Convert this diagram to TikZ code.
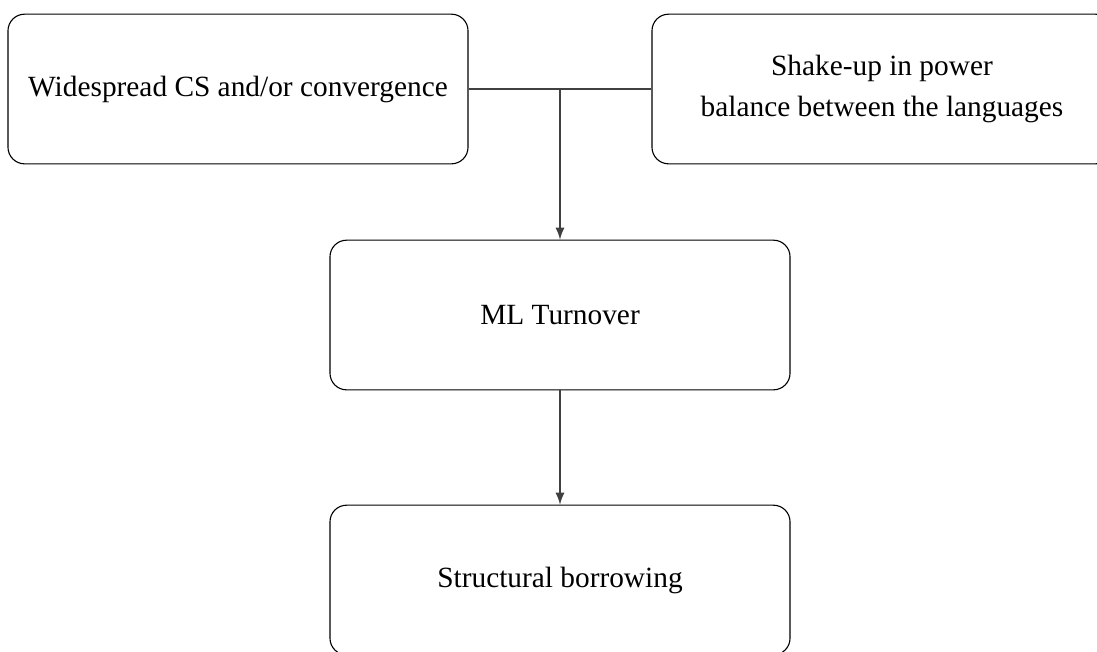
\documentclass[tikz,border=0pt]{standalone}
\usepackage{fontspec}
\setmainfont{Liberation Serif}
\usetikzlibrary{arrows}

\tikzset{
  stage/.style={draw, rounded corners=6pt, align=center, minimum width=5.84cm, minimum height=1.9cm, inner sep=0pt, font=\fontsize{10.6}{14.5}\selectfont},
  link/.style={draw=black!75, line width=0.5pt}
}

\begin{document}
\begin{tikzpicture}[x=0.0127cm, y=-0.0127cm]

 \useasboundingbox (0,0) rectangle (1097,651);
 \clip (0,0) rectangle (1097,651);

 % top row
 \node[stage] (cs) at (238,89) {Widespread CS and/or convergence};
 \node[stage] (shake) at (882,89) {Shake-up in power\\balance between the languages};

 % lower stages
 \node[stage] (ml) at (560,315) {ML Turnover};
 \node[stage] (borrow) at (560,580) {Structural borrowing};

 % lines
 \coordinate (join) at (ml.north |- cs.east);
 \path[link] (cs.east) -- (shake.west);
 \foreach \source/\dest in {join/ml, ml/borrow}
  \path[link, -latex] (\source) -- (\dest);

\end{tikzpicture}
\end{document}
